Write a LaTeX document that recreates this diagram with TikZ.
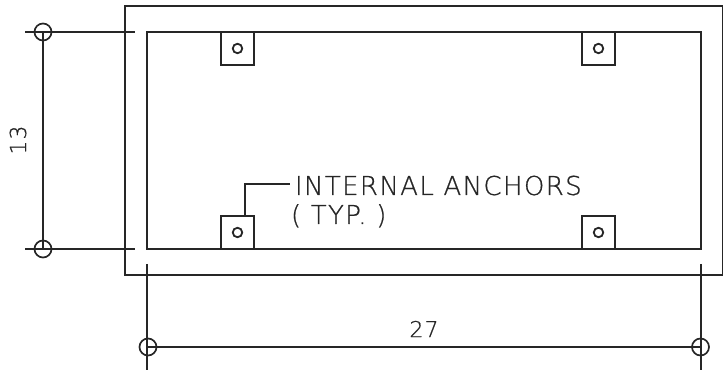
\documentclass[tikz,border=0pt]{standalone}
\usepackage{fontspec}
\setmainfont[FakeBold=0.7,LetterSpace=5.3]{DejaVu Sans ExtraLight}
\newfontfamily\dimfont[FakeBold=0.7,LetterSpace=5]{DejaVu Sans ExtraLight}
\tikzset{
  ln/.style={line width=1.6pt,draw=black!85},
  anchorbox/.style={ln,rectangle,minimum size=33pt,inner sep=0pt,outer sep=0pt},
  hole/.style={line width=1.8pt,draw=black!85,circle,minimum size=9.5pt,inner sep=0pt,outer sep=0pt},
  dimcirc/.style={line width=1.7pt,draw=black!85,circle,minimum size=17pt,inner sep=0pt,outer sep=0pt},
  lbl/.style={inner sep=0pt,outer sep=0pt,text=black!85,font=\fontsize{26}{28}\selectfont,anchor=base west},
  dimlbl/.style={inner sep=0pt,outer sep=0pt,text=black!85,font=\dimfont\fontsize{22}{24}\selectfont}
}
\begin{document}
\begin{tikzpicture}[x=1pt,y=-1pt]
\useasboundingbox (0,0) rectangle (723,371);
% outer and inner rectangles
\coordinate (oTL) at (125,6);
\coordinate (oTR) at (722.5,6);
\coordinate (oBL) at (125,275);
\coordinate (oBR) at (722.5,275);
\draw[ln] (oTR) -- (oTL) -- (oBL) -- (oBR) -- (oTR);
\coordinate (iTL) at (147,32);
\coordinate (iBR) at (701,249);
\draw[ln] (iTL) rectangle (iBR);
% anchors
\node[anchorbox] (a1) at (237.5,48.5) {};
\node[anchorbox] (a2) at (598.5,48.5) {};
\node[anchorbox] (a3) at (237.5,232.5) {};
\node[anchorbox] (a4) at (598.5,232.5) {};
\node[hole] (h1) at (a1) {};
\node[hole] (h2) at (a2) {};
\node[hole] (h3) at (a3) {};
\node[hole] (h4) at (a4) {};
% leader
\coordinate (ldr) at (245,216);
\coordinate (ldrEnd) at (289.5,184);
\draw[ln] (ldr) |- (ldrEnd);
\node[lbl] (t1) at (295,195) {INTERNAL ANCHORS};
\node[lbl] (t2) at (291,224) {( TYP. )};
% left dimension
\node[dimcirc] (c1) at (43,32) {};
\node[dimcirc] (c2) at (43,249) {};
\coordinate (e1a) at (25,32);
\coordinate (e1b) at (135,32);
\coordinate (e2a) at (25,249);
\coordinate (e2b) at (135,249);
\draw[ln] (e1a) -- (e1b);
\draw[ln] (e2a) -- (e2b);
\draw[ln] (c1.center) -- (c2.center);
\node[dimlbl,rotate=90] (d13) at (18,140) {13};
% bottom dimension
\node[dimcirc] (c3) at (148,347) {};
\node[dimcirc] (c4) at (700.5,347) {};
\coordinate (e3a) at (147,264);
\coordinate (e3b) at (147,369.5);
\coordinate (e4a) at (701,264);
\coordinate (e4b) at (701,369.5);
\draw[ln] (e3a) -- (e3b);
\draw[ln] (e4a) -- (e4b);
\draw[ln] (c3.center) -- (c4.center);
\node[dimlbl] (d27) at (424,329) {27};
\end{tikzpicture}
\end{document}
